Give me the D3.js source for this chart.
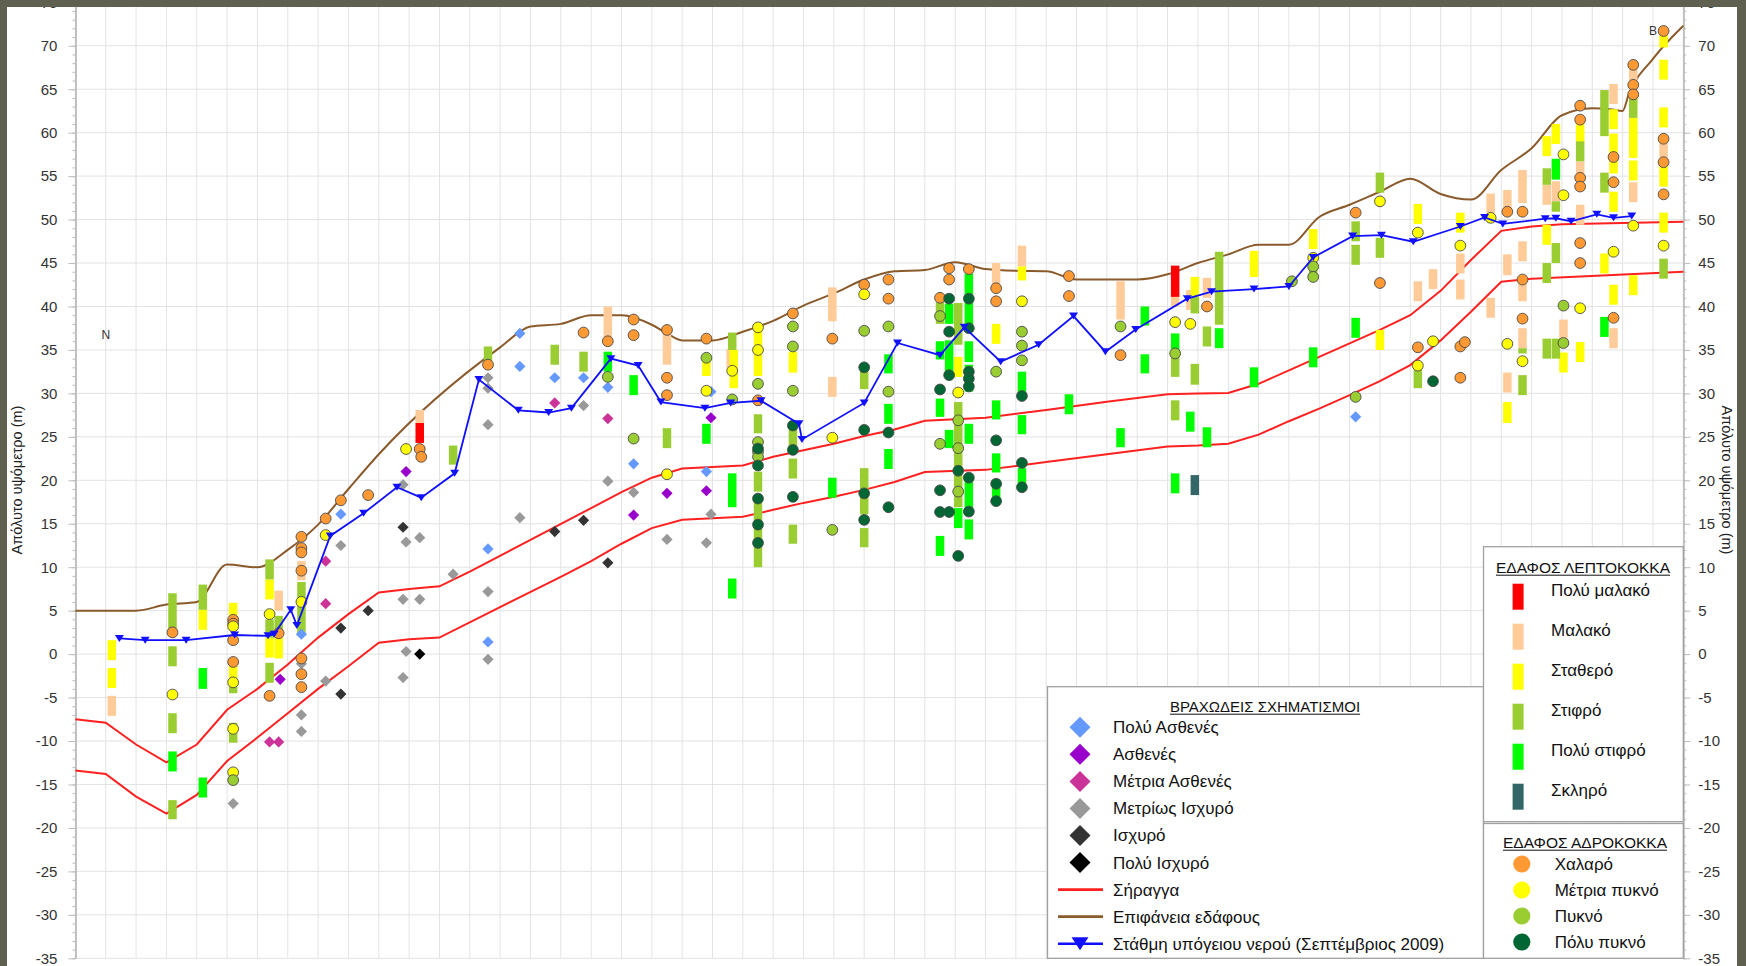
<!DOCTYPE html>
<html><head><meta charset="utf-8">
<script src="https://cdn.jsdelivr.net/npm/d3@7"></script>
<style>
body{margin:0;background:#606051;}
svg{display:block;}
text{font-family:"Liberation Sans",Arial,sans-serif;}
</style>
</head><body>
<svg id="c" width="1746" height="966"></svg>
<script>
// ---------------- DATA (x = chainage, y = absolute elevation m) ----------------
const yTicks = d3.range(-35, 76, 5);
const xGrid = d3.range(0, 1061, 20);

const groundSurface = [[0,5.0],[40,5.0],[60,5.7],[80,6.0],[100,10.3],[120,10.0],[140,12.0],[160,14.9],[180,19.0],[200,23.0],[280,35.3],[300,37.7],[320,38.0],[340,39.0],[360,39.0],[380,37.9],[390,36.9],[400,36.1],[420,36.1],[440,37.1],[460,38.35],[480,40.1],[500,41.5],[520,43.1],[540,44.05],[560,44.2],[580,45.1],[600,44.3],[620,44.1],[640,44.05],[660,43.1],[700,43.1],[720,43.7],[740,45.0],[760,46.0],[780,47.1],[800,47.1],[820,50.3],[840,51.7],[860,53.2],[880,54.7],[900,52.95],[920,52.3],[940,55.7],[960,58.2],[980,62.0],[1000,62.8],[1012,62.7],[1020,62.5],[1024,64.4],[1040,68.5],[1060,72.3]];

const tunnelTop = [[0,-7.5],[20,-7.9],[40,-10.4],[60,-12.45],[80,-10.4],[100,-6.4],[120,-4.0],[140,-1.2],[160,1.9],[180,4.6],[200,7.1],[220,7.5],[240,7.8],[260,9.5],[340,16.8],[360,18.65],[380,20.3],[400,21.35],[440,21.7],[460,22.7],[480,23.45],[500,24.2],[520,25.1],[540,25.85],[560,26.85],[600,27.2],[640,28.1],[680,29.05],[720,29.9],[740,30.0],[760,30.05],[780,31.1],[800,32.65],[820,34.2],[840,35.75],[860,37.3],[880,39.0],[900,41.8],[920,45.35],[940,48.7],[960,49.2],[980,49.45],[1060,49.75]];

const tunnelBottom = [[0,-13.4],[20,-13.8],[40,-16.4],[60,-18.35],[80,-16.2],[100,-12.3],[120,-9.6],[140,-6.8],[160,-4.0],[180,-1.4],[200,1.3],[220,1.7],[240,1.9],[320,8.9],[340,10.7],[360,12.7],[380,14.5],[400,15.45],[440,15.8],[460,16.6],[480,17.4],[500,18.1],[520,18.9],[540,19.8],[560,20.95],[600,21.2],[640,22.1],[680,23.0],[720,23.9],[740,24.0],[760,24.2],[780,25.25],[800,26.8],[820,28.25],[840,29.8],[860,31.4],[880,33.25],[900,36.1],[920,39.4],[940,42.85],[960,43.2],[1060,44.0]];

const waterTable = [[29,1.8],[46,1.6],[73,1.6],[105,2.2],[127,2.1],[131,2.3],[142,5.1],[146,3.3],[168,13.6],[190,16.2],[212,19.2],[228,18.0],[250,20.8],[266,31.6],[292,28.05],[312,27.8],[327,28.3],[353,34.0],[371,33.2],[386,29.0],[415,28.3],[432,28.9],[452,29.15],[477,26.5],[479,24.7],[520,28.9],[542,35.8],[570,34.4],[586,37.6],[610,33.65],[635,35.6],[658,38.9],[679,34.8],[699,37.35],[733,40.9],[749,41.7],[777,42.0],[800,42.3],[816,45.65],[842,48.1],[861,48.2],[882,47.45],[913,49.2],[929,50.25],[941,49.5],[969,50.1],[976,50.15],[986,49.8],[1003,50.6],[1014,50.2],[1026,50.4]];

// Fine-grained soil intervals [x, top, bottom]
const fineVerySoft = [[227,26.6,24.3],[725,44.7,41.1]];
const fineSoft = [[24,-4.8,-7.1],[134,7.3,5.0],[149,10.7,8.5],[227,28.1,26.6],[351,40.0,36.4],[390,36.9,33.3],[432,35.1,33.0],[499,42.2,38.3],[499,31.9,29.6],[607,45.0,42.6],[624,47.0,44.6],[689,42.9,38.5],[725,41.1,40.0],[735,41.9,39.6],[746,43.3,41.0],[885,42.9,40.6],[895,44.3,42.0],[913,46.1,43.8],[913,43.1,40.8],[933,53.0,50.7],[933,41.0,38.7],[944,53.4,51.1],[944,46.0,43.6],[944,32.4,30.1],[954,55.7,51.9],[954,47.5,45.2],[954,42.9,40.6],[954,37.5,35.2],[970,54.0,51.7],[976,54.4,52.1],[981,38.5,36.2],[992,56.7,54.4],[992,51.7,49.4],[1014,65.6,63.3],[1014,37.5,35.2],[1027,67.6,64.5],[1027,54.3,52.0],[1047,59.0,57.1]];
const fineFirm = [[24,1.6,-0.7],[24,-1.6,-3.9],[84,5.1,2.8],[104,5.9,3.6],[104,-1.3,-2.8],[128,8.6,6.3],[128,1.9,-0.4],[134,2.0,-0.5],[416,34.3,32.0],[434,35.0,30.6],[450,37.3,32.0],[473,34.8,32.4],[582,34.2,31.9],[607,38.0,35.7],[624,44.6,43.0],[738,43.4,41.1],[777,46.4,43.4],[816,48.9,46.6],[860,37.3,35.0],[885,51.8,49.5],[913,50.8,48.5],[944,29.0,26.6],[970,59.6,57.3],[970,49.4,47.1],[976,61.0,58.7],[981,34.7,32.4],[992,61.1,58.8],[992,35.9,33.6],[1008,46.1,43.8],[1014,62.7,60.4],[1014,59.9,55.3],[1014,53.2,50.9],[1014,42.5,40.2],[1027,61.7,57.1],[1027,56.8,54.5],[1027,43.6,41.3],[1047,71.3,69.8],[1047,68.4,66.1],[1047,62.9,60.6],[1047,56.5,53.8],[1047,50.8,48.5]];
const fineStiff = [[64,7.0,2.8],[64,0.9,-1.4],[64,-6.8,-9.1],[64,-16.8,-19.0],[84,8.0,5.1],[104,-2.8,-4.5],[104,-7.9,-10.2],[128,10.9,8.6],[128,4.0,1.9],[128,-1.0,-3.3],[134,4.4,2.0],[149,8.3,2.4],[249,24.0,21.8],[272,35.4,33.3],[316,35.6,33.3],[335,34.8,32.5],[390,26.0,23.7],[433,37.0,35.0],[450,27.6,25.4],[450,21.0,18.7],[450,17.6,10.0],[473,26.2,23.8],[473,22.5,20.2],[473,14.9,12.7],[520,32.7,30.5],[520,21.4,16.1],[520,14.5,12.3],[570,40.5,38.0],[582,40.4,35.6],[582,29.0,16.9],[725,34.6,31.9],[725,29.2,26.9],[738,41.1,39.2],[738,33.4,31.0],[746,37.7,35.4],[754,46.3,37.9],[816,45.2,43.3],[844,49.8,47.5],[844,47.1,44.8],[860,55.4,53.1],[860,47.9,45.6],[885,32.9,30.6],[954,35.2,34.6],[954,32.1,29.8],[970,55.9,54.0],[970,45.0,42.7],[970,36.3,34.0],[976,52.1,50.9],[976,47.3,45.0],[976,36.3,34.0],[992,59.0,56.7],[1008,64.9,59.6],[1008,55.4,53.1],[1027,64.0,61.7],[1047,45.5,43.2]];
const fineVeryStiff = [[64,-11.2,-13.5],[84,-1.6,-4.0],[84,-14.2,-16.5],[351,34.8,32.5],[368,32.1,29.8],[416,26.5,24.2],[433,20.8,16.9],[433,8.7,6.4],[499,20.3,18.0],[536,34.5,32.3],[536,28.8,26.5],[536,23.6,21.3],[570,36.0,33.9],[570,29.4,27.3],[570,13.6,11.3],[576,40.3,38.0],[576,36.1,32.1],[576,25.8,23.7],[582,16.8,14.5],[589,43.8,37.8],[589,36.0,33.6],[589,33.3,30.2],[589,26.5,24.2],[589,20.6,16.5],[589,15.5,13.2],[607,29.2,27.0],[607,23.1,20.9],[607,20.1,17.8],[624,32.5,30.0],[624,27.5,25.3],[624,21.4,19.2],[655,29.9,27.6],[689,26.0,23.8],[705,40.0,37.8],[705,34.5,32.3],[725,36.9,34.6],[725,20.8,18.5],[735,27.9,25.6],[746,26.1,23.8],[754,37.5,35.2],[777,33.0,30.7],[816,35.3,33.0],[844,38.7,36.4],[976,57.0,54.6],[1008,38.8,36.5]];
const fineHard = [[738,20.6,18.3]];

// Coarse-grained soil samples [x, y]
const coarseLoose = [[64,2.5],[104,3.95],[104,3.5],[104,1.6],[104,-0.9],[128,-4.8],[134,2.4],[149,13.5],[149,12.2],[149,11.7],[149,9.6],[149,-0.5],[149,-2.3],[149,-3.8],[165,15.6],[175,17.7],[193,18.3],[227,23.6],[228,22.7],[272,33.3],[335,37.0],[351,36.0],[368,38.5],[368,36.7],[390,37.3],[390,31.8],[390,29.8],[416,36.3],[450,29.2],[473,39.2],[499,36.3],[520,42.5],[536,43.1],[536,40.9],[570,41.0],[576,44.4],[576,43.1],[589,44.3],[607,42.1],[607,40.6],[655,43.5],[655,41.2],[689,34.4],[746,40.0],[844,50.8],[860,42.7],[885,35.3],[913,35.4],[916,35.9],[913,31.8],[944,50.9],[954,50.9],[954,43.1],[954,38.6],[992,63.1],[992,61.5],[992,54.8],[992,53.8],[992,47.3],[992,45.0],[1014,57.2],[1014,54.3],[1014,38.7],[1027,67.8],[1027,65.5],[1027,64.4],[1047,71.7],[1047,59.3],[1047,56.6],[1047,52.9]];
const coarseMedium = [[64,-4.65],[104,3.2],[104,-3.25],[104,-8.6],[104,-13.6],[128,4.6],[149,6.0],[165,13.7],[218,23.6],[390,20.7],[416,30.3],[433,32.6],[450,37.6],[450,35.0],[499,24.9],[520,41.4],[582,30.1],[624,40.6],[725,38.2],[735,38.0],[816,45.6],[860,52.1],[885,48.5],[885,33.2],[895,36.0],[913,47.0],[933,50.2],[944,35.7],[954,33.7],[981,57.5],[981,52.8],[992,39.8],[1014,46.3],[1027,49.3],[1047,47.0]];
const coarseDense = [[104,-14.5],[351,31.9],[368,24.8],[416,34.1],[433,29.3],[450,31.1],[450,24.4],[450,23.3],[450,22.7],[473,37.7],[473,35.4],[473,30.3],[499,14.3],[520,37.2],[536,37.7],[536,30.2],[570,38.9],[570,24.2],[582,26.9],[582,23.7],[582,18.7],[607,32.5],[624,37.1],[624,35.5],[624,33.8],[689,37.7],[725,34.6],[802,42.9],[816,44.6],[816,43.4],[844,29.6],[981,40.1],[981,35.8]];
const coarseVeryDense = [[450,23.65],[450,21.7],[450,17.9],[450,14.9],[450,12.8],[473,26.3],[473,23.5],[473,18.1],[520,33.0],[520,25.8],[520,18.5],[520,15.45],[536,25.5],[536,16.9],[570,30.45],[570,18.85],[570,16.35],[576,40.9],[576,37.1],[576,32.1],[576,16.35],[582,21.1],[582,11.3],[589,40.9],[589,37.5],[589,32.5],[589,31.7],[589,30.8],[589,20.3],[589,16.4],[607,24.6],[607,19.6],[607,17.6],[624,29.7],[624,22.0],[624,19.2],[895,31.4]];

// Rock formations [x, y]
const rockVeryWeak = [[149,2.3],[175,16.1],[272,12.1],[272,1.4],[293,36.9],[293,33.1],[316,31.8],[335,31.8],[351,30.7],[368,21.9],[419,30.2],[416,21.0],[816,44.5],[844,27.3]];
const rockWeak = [[135,-2.9],[218,21.0],[368,16.0],[390,18.5],[419,27.2],[416,18.8]];
const rockModWeak = [[128,-10.1],[134,-10.1],[165,10.7],[165,5.8],[316,28.9],[351,27.1]];
const rockModStrong = [[104,-17.2],[149,-1.1],[149,-7.0],[149,-8.9],[165,-3.1],[175,12.5],[216,19.5],[216,6.3],[216,-2.7],[218,12.9],[218,0.3],[227,13.4],[227,6.3],[249,9.2],[272,31.8],[272,30.6],[272,26.4],[272,7.2],[272,-0.6],[293,15.7],[335,28.6],[351,19.9],[368,18.6],[390,13.2],[416,12.8],[419,16.1]];
const rockStrong = [[175,3.0],[175,-4.6],[193,5.0],[216,14.6],[316,14.1],[335,15.4],[351,10.5]];
const rockVeryStrong = [[227,0.0]];

// Labels
const rockLabels = ["Πολύ Ασθενές","Ασθενές","Μέτρια Ασθενές","Μετρίως Ισχυρό","Ισχυρό","Πολύ Ισχυρό"];
const lineLabels = ["Σήραγγα","Επιφάνεια εδάφους","Στάθμη υπόγειου νερού (Σεπτέμβριος 2009)"];
const fineLabels = ["Πολύ μαλακό","Μαλακό","Σταθερό","Στιφρό","Πολύ στιφρό","Σκληρό"];
const coarseLabels = ["Χαλαρό","Μέτρια πυκνό","Πυκνό","Πόλυ πυκνό"];
const sectionLabels = [["N",20,36.7],["B",1047,71.7]];

// ---------------- STYLE ----------------
const rockColors = ["#6699ff","#9900cc","#cc3399","#999999","#333333","#000000"];
const fineColors = ["#ff0000","#ffcc99","#ffff00","#9acd32","#00ff00","#336666"];
const coarseColors = ["#ff9933","#ffff00","#9acd32","#006633"];
const lineColors = {tunnel:"#ff2020", ground:"#8b5a2b", water:"#1010ff"};

const W=1746,H=966;
const svg=d3.select("#c");
svg.append("rect").attr("width",W).attr("height",H).attr("fill","#606051");
svg.append("rect").attr("x",7).attr("y",7).attr("width",1730).attr("height",H-7).attr("fill","#fff");

const x=d3.scaleLinear().domain([0,1060]).range([75.4,1683.3]);
const y=d3.scaleLinear().domain([-35,75]).range([958.3,2.3]);

// grid
const grid=svg.append("g");
grid.selectAll("line.v").data(xGrid).join("line")
  .attr("x1",d=>x(d)).attr("x2",d=>x(d)).attr("y1",y(75)).attr("y2",y(-35))
  .attr("stroke","#e3e3e3").attr("stroke-width",1);
grid.selectAll("line.h").data(yTicks).join("line")
  .attr("x1",x(0)).attr("x2",x(1060)).attr("y1",d=>y(d)).attr("y2",d=>y(d))
  .attr("stroke","#e3e3e3").attr("stroke-width",1);

// axes
function styleAxis(g){
  g.selectAll("path.domain").attr("stroke","#bdbdbd").attr("stroke-width",1.6);
  g.selectAll(".tick line").attr("stroke","#bdbdbd");
  g.selectAll(".tick text").attr("fill","#333").style("font-size","15px").style("font-family","Liberation Sans, Arial, sans-serif");
}
const minor=d3.range(-35,76,1);
svg.append("g").attr("transform",`translate(${x(0)},0)`)
  .call(d3.axisLeft(y).tickValues(minor).tickSize(3).tickFormat("").tickSizeOuter(0)).call(styleAxis);
svg.append("g").attr("transform",`translate(${x(0)},0)`)
  .call(d3.axisLeft(y).tickValues(yTicks).tickSize(7).tickPadding(11).tickFormat(d=>String(d)).tickSizeOuter(0)).call(styleAxis);
svg.append("g").attr("transform",`translate(${x(1060)},0)`)
  .call(d3.axisRight(y).tickValues(minor).tickSize(3).tickFormat("").tickSizeOuter(0)).call(styleAxis);
svg.append("g").attr("transform",`translate(${x(1060)},0)`)
  .call(d3.axisRight(y).tickValues(yTicks).tickSize(7).tickPadding(8).tickFormat(d=>String(d)).tickSizeOuter(0)).call(styleAxis);

// axis titles
svg.append("text").attr("transform","translate(22,480) rotate(-90)").attr("text-anchor","middle")
  .style("font-size","14.5px").attr("fill","#222").text("Απόλυτο υψόμετρο (m)");
svg.append("text").attr("transform","translate(1722,480) rotate(90)").attr("text-anchor","middle")
  .style("font-size","14.5px").attr("fill","#222").text("Απόλυτο υψόμετρο (m)");

// lines
const lineGen=d3.line().x(d=>x(d[0])).y(d=>y(d[1]));
const smoothGen=d3.line().x(d=>x(d[0])).y(d=>y(d[1])).curve(d3.curveMonotoneX);
[tunnelTop,tunnelBottom].forEach(t=>{
  svg.append("path").attr("d",lineGen(t)).attr("fill","none").attr("stroke",lineColors.tunnel).attr("stroke-width",2);
});
svg.append("path").attr("d",smoothGen(groundSurface)).attr("fill","none").attr("stroke",lineColors.ground).attr("stroke-width",2);

// fine soil bars
const barW=8.5;
[fineVerySoft,fineSoft,fineFirm,fineStiff,fineVeryStiff,fineHard].forEach((arr,i)=>{
  svg.append("g").selectAll("rect").data(arr).join("rect")
    .attr("x",d=>x(d[0])-barW/2).attr("width",barW)
    .attr("y",d=>y(d[1])).attr("height",d=>y(d[2])-y(d[1]))
    .attr("fill",fineColors[i]);
});

// rock diamonds
const diamond=r=>`M0,${-r}L${r},0L0,${r}L${-r},0Z`;
[rockVeryWeak,rockWeak,rockModWeak,rockModStrong,rockStrong,rockVeryStrong].forEach((arr,i)=>{
  svg.append("g").selectAll("path").data(arr).join("path")
    .attr("transform",d=>`translate(${x(d[0])},${y(d[1])})`)
    .attr("d",diamond(5.6)).attr("fill",rockColors[i]);
});

// coarse circles
[coarseLoose,coarseMedium,coarseDense,coarseVeryDense].forEach((arr,i)=>{
  svg.append("g").selectAll("circle").data(arr).join("circle")
    .attr("cx",d=>x(d[0])).attr("cy",d=>y(d[1])).attr("r",5.4)
    .attr("fill",coarseColors[i]).attr("stroke","#4a4a4a").attr("stroke-width",0.9);
});

// water table
svg.append("path").attr("d",lineGen(waterTable)).attr("fill","none").attr("stroke",lineColors.water).attr("stroke-width",1.8);
const tri=(w,h)=>`M${-w/2},${-h/2}L${w/2},${-h/2}L0,${h/2}Z`;
svg.append("g").selectAll("path").data(waterTable).join("path")
  .attr("transform",d=>`translate(${x(d[0])},${y(d[1])})`)
  .attr("d",tri(9,7)).attr("fill",lineColors.water);

// section labels
svg.append("text").attr("x",x(sectionLabels[0][1])).attr("y",y(sectionLabels[0][2])).attr("dy","0.35em")
  .attr("text-anchor","middle").style("font-size","12px").attr("fill","#333").text(sectionLabels[0][0]);
svg.append("text").attr("x",x(sectionLabels[1][1])-6.5).attr("y",y(sectionLabels[1][2])).attr("dy","0.35em")
  .attr("text-anchor","end").style("font-size","12px").attr("fill","#333").text(sectionLabels[1][0]);

// ---------------- LEGENDS ----------------
function title(g,txt,cx,by,fs){
  const t=g.append("text").attr("x",cx).attr("y",by).attr("text-anchor","middle")
    .style("font-size",fs+"px").attr("fill","#111").text(txt);
  const w=t.node().getComputedTextLength();
  g.append("line").attr("x1",cx-w/2).attr("x2",cx+w/2).attr("y1",by+2.2).attr("y2",by+2.2)
    .attr("stroke","#111").attr("stroke-width",1);
}
// Legend 1: rock formations + lines
const L1=svg.append("g");
L1.append("rect").attr("x",1047.5).attr("y",686.7).attr("width",436).attr("height",271.6)
  .attr("fill","#fff").attr("stroke","#a0a0a0").attr("stroke-width",1.3);
title(L1,"ΒΡΑΧΩΔΕΙΣ ΣΧΗΜΑΤΙΣΜΟΙ",1265,712,15);
const l1y=k=>727.3+27.05*k;
rockLabels.forEach((lab,k)=>{
  L1.append("path").attr("transform",`translate(1080,${l1y(k)})`).attr("d",diamond(10.5)).attr("fill",rockColors[k]);
  L1.append("text").attr("x",1113).attr("y",l1y(k)).attr("dy","0.35em").style("font-size","17px").attr("fill","#111").text(lab);
});
const lcols=[lineColors.tunnel,lineColors.ground,lineColors.water];
lineLabels.forEach((lab,k)=>{
  const yy=l1y(k+6);
  L1.append("line").attr("x1",1058).attr("x2",1103).attr("y1",yy).attr("y2",yy).attr("stroke",lcols[k]).attr("stroke-width",2.6);
  if(k===2) L1.append("path").attr("transform",`translate(1080,${yy})`).attr("d",tri(17,13)).attr("fill",lineColors.water);
  L1.append("text").attr("x",1113).attr("y",yy).attr("dy","0.35em").style("font-size","17px").attr("fill","#111").text(lab);
});
// Legend 2: fine-grained soils
const L2=svg.append("g");
L2.append("rect").attr("x",1483.5).attr("y",546.7).attr("width",199.8).attr("height",275)
  .attr("fill","#fff").attr("stroke","#a0a0a0").attr("stroke-width",1.3);
title(L2,"ΕΔΑΦΟΣ ΛΕΠΤΟΚΟΚΚΑ",1583,573,15.5);
fineLabels.forEach((lab,k)=>{
  L2.append("rect").attr("x",1512.6).attr("y",583.7+40*k).attr("width",11).attr("height",26).attr("fill",fineColors[k]);
  L2.append("text").attr("x",1551).attr("y",590+40*k).attr("dy","0.35em").style("font-size","17px").attr("fill","#111").text(lab);
});
// Legend 3: coarse-grained soils
const L3=svg.append("g");
L3.append("rect").attr("x",1483.5).attr("y",823.5).attr("width",199.8).attr("height",134.8)
  .attr("fill","#fff").attr("stroke","#a0a0a0").attr("stroke-width",1.3);
title(L3,"ΕΔΑΦΟΣ ΑΔΡΟΚΟΚΚΑ",1585,848,15.5);
coarseLabels.forEach((lab,k)=>{
  const yy=864+26*k;
  L3.append("circle").attr("cx",1521.8).attr("cy",yy).attr("r",8.6).attr("fill",coarseColors[k]);
  L3.append("text").attr("x",1554.7).attr("y",yy).attr("dy","0.35em").style("font-size","17px").attr("fill","#111").text(lab);
});

// frame on top
svg.append("rect").attr("x",0).attr("y",0).attr("width",W).attr("height",7).attr("fill","#606051");
svg.append("rect").attr("x",0).attr("y",0).attr("width",7).attr("height",H).attr("fill","#606051");
svg.append("rect").attr("x",1737).attr("y",0).attr("width",9).attr("height",H).attr("fill","#606051");
</script>
</body></html>
